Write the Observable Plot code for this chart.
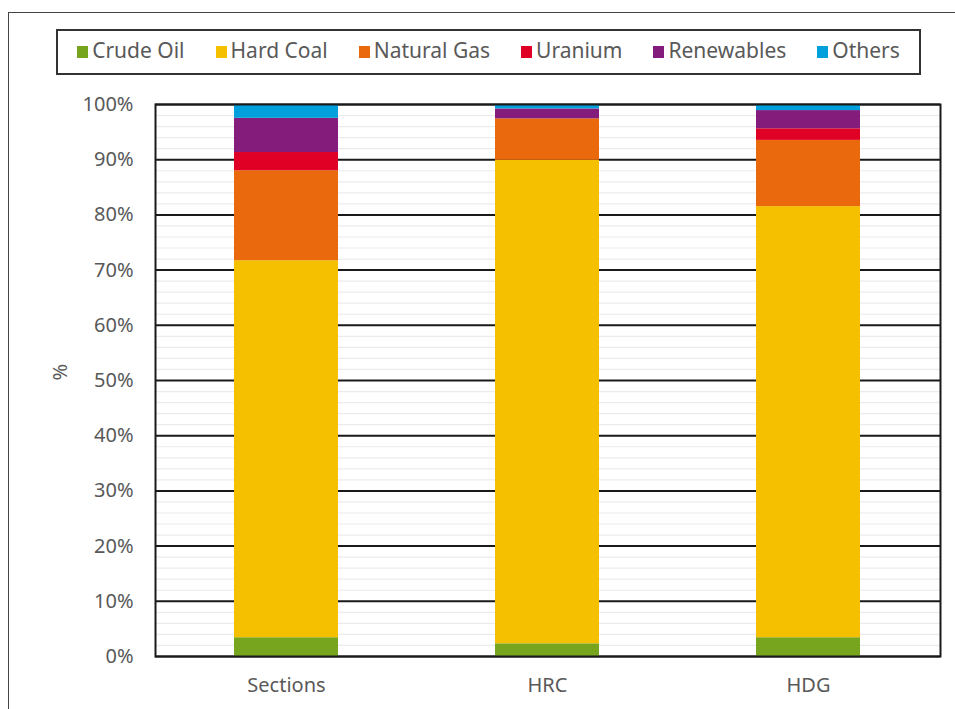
<!DOCTYPE html>
<html>
<head>
<meta charset="utf-8">
<script src="https://cdn.jsdelivr.net/npm/d3@7"></script>
<script src="https://cdn.jsdelivr.net/npm/@observablehq/plot@0.6"></script>
<style>
  html, body { margin: 0; padding: 0; background: #fff; }
  #wrap { position: relative; width: 955px; height: 709px; overflow: hidden; font-family: "Noto Sans", sans-serif; }
  #outer { position: absolute; left: 8px; top: 12px; width: 960px; height: 720px; border: 1.5px solid #444; box-sizing: border-box; }
  #legend { position: absolute; left: 56px; top: 29px; width: 865px; height: 46px; border: 2px solid #333; box-sizing: border-box;
            display: flex; align-items: center; justify-content: center; gap: 31px; color: #595959; font-size: 21px; padding-bottom: 4px; }
  .item { display: flex; align-items: center; }
  .sw { width: 11px; height: 12px; margin-right: 4px; margin-top: 4px; }
  #chart { position: absolute; left: 0; top: 0; }
</style>
</head>
<body>
<div id="wrap">
  <div id="outer"></div>
  <div id="chart"></div>
  <div id="legend"></div>
</div>
<script>
const categories = ["Sections", "HRC", "HDG"];
const sources = ["Crude Oil", "Hard Coal", "Natural Gas", "Uranium", "Renewables", "Others"];
const colors = ["#77A51E", "#F4C000", "#E9690C", "#E00025", "#841C7C", "#00A0DC"];
const sectionsShares = [3.4, 68.3, 16.3, 3.3, 6.2, 2.5];
const hrcShares = [2.3, 87.6, 7.5, 0.0, 1.8, 0.8];
const hdgShares = [3.4, 78.1, 12.0, 2.1, 3.3, 1.1];
const yTicks = [0, 10, 20, 30, 40, 50, 60, 70, 80, 90, 100];
const yMinor = d3.range(0, 101, 2);

const shares = [sectionsShares, hrcShares, hdgShares];
const table = [];
categories.forEach((c, i) => {
  sources.forEach((s, j) => table.push({category: c, source: s, value: shares[i][j]}));
});

const chart = Plot.plot({
  width: 955,
  height: 709,
  marginTop: 104,
  marginBottom: 53,
  marginLeft: 155,
  marginRight: 15,
  style: {fontFamily: "Noto Sans, sans-serif", fontSize: "20px", color: "#595959", background: "transparent"},
  x: {domain: categories, paddingInner: 0.6, paddingOuter: 0.3, label: null, tickSize: 0, tickPadding: 21},
  y: {domain: [0, 100], ticks: yTicks, tickFormat: d => d + "%", tickSize: 0, tickPadding: 22, label: null},
  color: {domain: sources, range: colors},
  marks: [
    Plot.ruleY(yMinor, {stroke: "#ebebeb", strokeWidth: 1.2}),
    Plot.ruleY(yTicks, {stroke: "#1a1a1a", strokeWidth: 2}),
    Plot.barY(table, {x: "category", y: "value", fill: "source"}),
    Plot.frame({stroke: "#1a1a1a", strokeWidth: 2}),
    Plot.text(["%"], {frameAnchor: "left", dx: -95, rotate: -90, fill: "#595959", fontSize: 20})
  ]
});
document.getElementById("chart").appendChild(chart);

const legend = document.getElementById("legend");
sources.forEach((s, i) => {
  const item = document.createElement("div");
  item.className = "item";
  const sw = document.createElement("span");
  sw.className = "sw";
  sw.style.background = colors[i];
  const t = document.createElement("span");
  t.textContent = s;
  item.appendChild(sw);
  item.appendChild(t);
  legend.appendChild(item);
});
</script>
</body>
</html>
